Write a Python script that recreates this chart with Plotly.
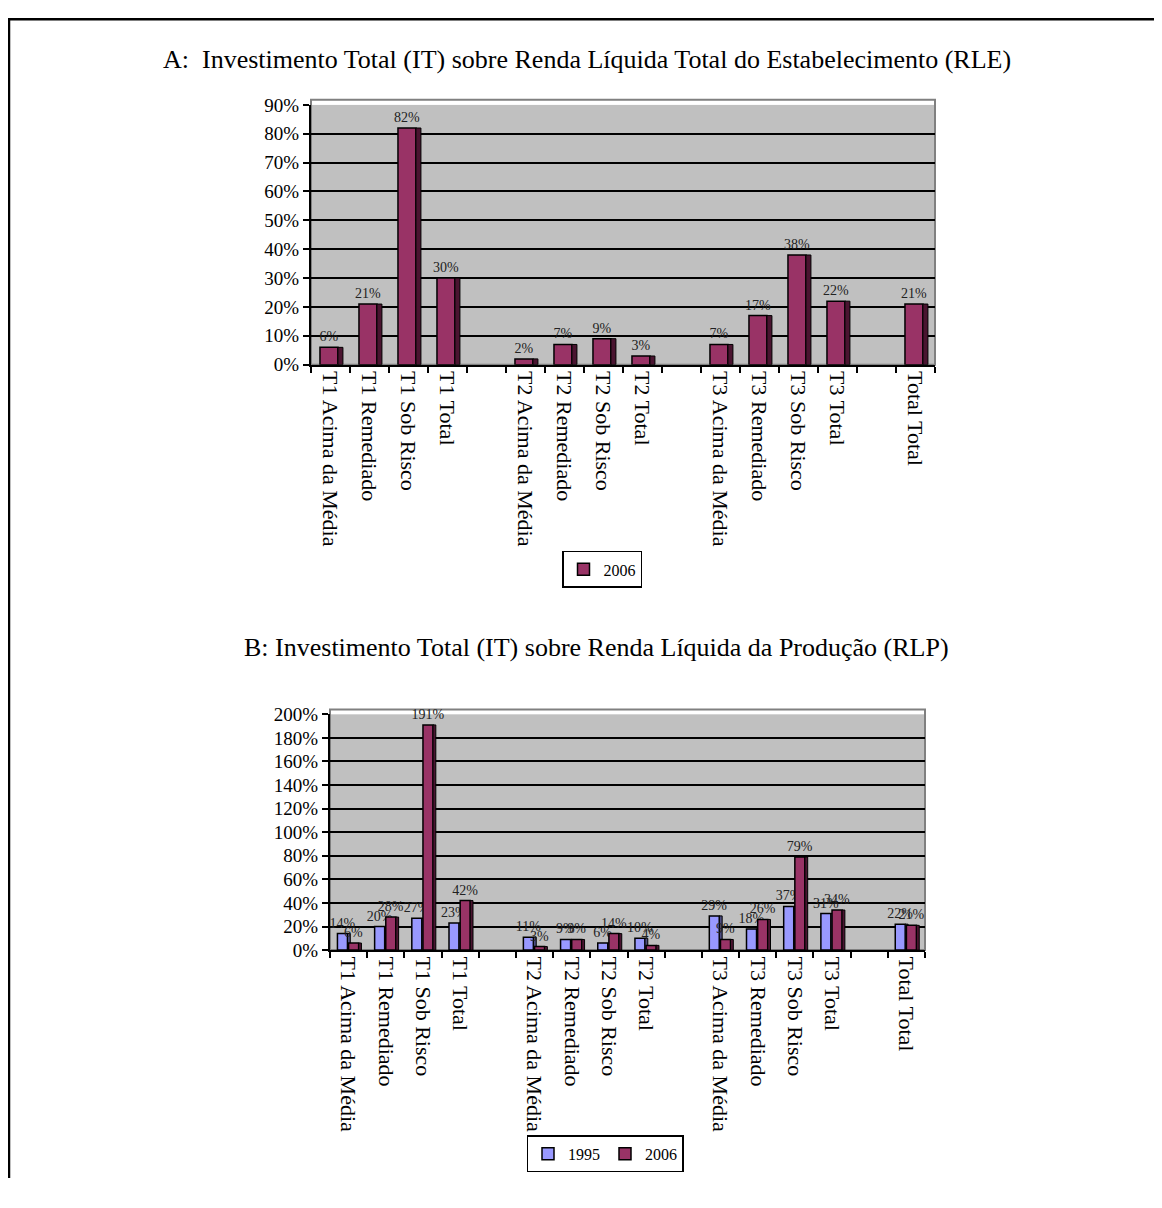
import plotly.graph_objects as go

# ---------------- data ----------------
categories = [
    "T1 Acima da Média", "T1 Remediado", "T1 Sob Risco", "T1 Total", " ",
    "T2 Acima da Média", "T2 Remediado", "T2 Sob Risco", "T2 Total", "  ",
    "T3 Acima da Média", "T3 Remediado", "T3 Sob Risco", "T3 Total", "   ",
    "Total Total",
]
# Chart A: IT / RLE, 2006 (fractions)
a_2006 = [0.06, 0.21, 0.82, 0.30, None,
          0.02, 0.07, 0.09, 0.03, None,
          0.07, 0.17, 0.38, 0.22, None,
          0.21]
# Chart B: IT / RLP, 1995 and 2006 (fractions)
b_1995 = [0.14, 0.20, 0.27, 0.23, None,
          0.11, 0.09, 0.06, 0.10, None,
          0.29, 0.18, 0.37, 0.31, None,
          0.22]
b_2006 = [0.06, 0.28, 1.91, 0.42, None,
          0.03, 0.09, 0.14, 0.04, None,
          0.09, 0.26, 0.79, 0.34, None,
          0.21]

title_a = "A:  Investimento Total (IT) sobre Renda Líquida Total do Estabelecimento (RLE)"
title_b = "B: Investimento Total (IT) sobre Renda Líquida da Produção (RLP)"

# ---------------- style ----------------
W, H = 1146, 1170
TOP = 18          # page y where the figure starts
KY = 0.983        # observed vertical scale of the rendered page
FONT = "Liberation Serif, Times New Roman, serif"
PLUM = "#993366"
PLUM_SIDE = "#4a1430"
LAV = "#9999FF"
LAV_SIDE = "#4d4d80"
WALL = "#C0C0C0"


def lbl(vals):
    return ["" if v is None else f"{round(v*100):d}%" for v in vals]


def px_x(p):
    return (p - 8) / W


def px_y(p):
    return 1 - (p - TOP) / (KY * H)


def bar(y, name, color, side, xa, ya, leg, offset, width):
    traces = [go.Bar(
        x=categories, y=y, name=name, text=lbl(y),
        textposition="outside", cliponaxis=False, constraintext="none",
        textfont=dict(family=FONT, size=14, color="#222"),
        marker=dict(color=color, line=dict(color="black", width=1.5)),
        width=width, offset=offset, xaxis=xa, yaxis=ya, legend=leg,
    )]
    # darker right-hand face (pseudo 3-D side)
    traces.append(go.Bar(
        x=categories, y=y, name=name, showlegend=False, hoverinfo="skip",
        marker=dict(color=side, line=dict(color="black", width=1)),
        width=width * 0.28, offset=offset + width, xaxis=xa, yaxis=ya,
    ))
    return traces


fig = go.Figure()
for t in bar(a_2006, "2006", PLUM, PLUM_SIDE, "x", "y", "legend", -0.27, 0.46):
    fig.add_trace(t)
for t in bar(b_1995, "1995", LAV, LAV_SIDE, "x2", "y2", "legend2", -0.30, 0.27):
    fig.add_trace(t)
for t in bar(b_2006, "2006", PLUM, PLUM_SIDE, "x2", "y2", "legend2", 0.0, 0.27):
    fig.add_trace(t)

xcommon = dict(
    type="category", categoryorder="array", categoryarray=categories,
    tickangle=90, tickson="boundaries", ticks="outside", ticklen=6,
    tickwidth=1.5, tickcolor="black", showgrid=False,
    showline=True, linecolor="black", linewidth=2,
    tickfont=dict(family=FONT, size=22, color="black"),
)
ycommon = dict(
    tickformat=".0%", ticks="outside", ticklen=6, tickwidth=1.5,
    tickcolor="black", showline=True, linecolor="black", linewidth=2,
    gridcolor="black", gridwidth=2, zeroline=False,
    tickfont=dict(family=FONT, size=19, color="black"),
)

fig.update_layout(
    width=W, height=H,
    margin=dict(l=0, r=0, t=0, b=0),
    paper_bgcolor="white", plot_bgcolor=WALL,
    barmode="overlay", showlegend=True,
    font=dict(family=FONT, color="black"),
    xaxis=dict(domain=[px_x(311), px_x(935)], anchor="y", **xcommon),
    yaxis=dict(domain=[px_y(365), px_y(105)], anchor="x",
               range=[0, 0.9], dtick=0.1, **ycommon),
    xaxis2=dict(domain=[px_x(330), px_x(925)], anchor="y2", **xcommon),
    yaxis2=dict(domain=[px_y(951), px_y(715)], anchor="x2",
                range=[0, 2.0], dtick=0.2, **ycommon),
    legend=dict(x=px_x(602), y=px_y(570), xanchor="center", yanchor="middle",
                orientation="h", bgcolor="white", bordercolor="black",
                borderwidth=1.5, font=dict(family=FONT, size=16, color="black"),
                itemwidth=30),
    legend2=dict(x=px_x(605), y=px_y(1155), xanchor="center", yanchor="middle",
                 orientation="h", bgcolor="white", bordercolor="black",
                 borderwidth=1.5, font=dict(family=FONT, size=16, color="black"),
                 itemwidth=30, traceorder="normal"),
    annotations=[
        dict(text=title_a, x=px_x(587), y=px_y(60), xref="paper", yref="paper",
             showarrow=False, xanchor="center", yanchor="middle",
             font=dict(family=FONT, size=26, color="black")),
        dict(text=title_b, x=px_x(596), y=px_y(648), xref="paper", yref="paper",
             showarrow=False, xanchor="center", yanchor="middle",
             font=dict(family=FONT, size=26, color="black")),
    ],
    shapes=[
        dict(type="rect", xref="paper", yref="paper",
             x0=px_x(9), x1=1.02, y0=-0.02, y1=0.999,
             line=dict(color="black", width=2.5)),
        dict(type="rect", xref="x domain", yref="y domain",
             x0=0, x1=1, y0=0, y1=1.02, line=dict(color="#808080", width=2),
             layer="below"),
        dict(type="rect", xref="x2 domain", yref="y2 domain",
             x0=0, x1=1, y0=0, y1=1.02, line=dict(color="#808080", width=2),
             layer="below"),
    ],
)

fig.write_html("out.html")
